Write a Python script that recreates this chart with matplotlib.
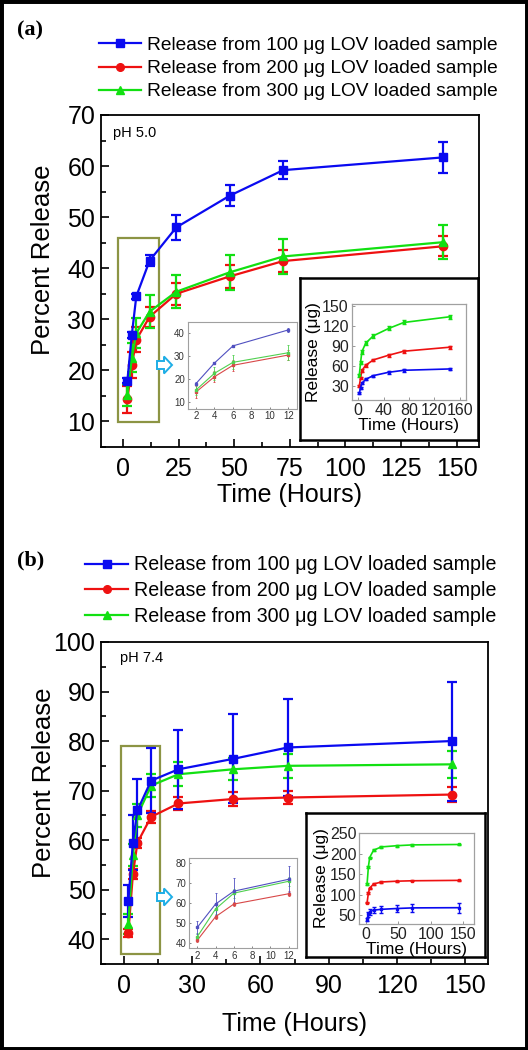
import numpy as np
import matplotlib
matplotlib.use("Agg")
import matplotlib.pyplot as plt
from matplotlib.patches import Rectangle, FancyArrow
from matplotlib.lines import Line2D
from matplotlib.ticker import MultipleLocator

plt.rcParams['font.family'] = ['Liberation Sans', 'DejaVu Sans']

# sampling times (hours)
hours = [2, 4, 6, 12, 24, 48, 72, 144]

# pH 5.0 - percent release (100, 200, 300 ug loaded)
ph5_100 = [18.0, 27.0, 34.5, 41.5, 48.0, 54.2, 59.2, 61.7]
ph5_100_err = [0.5, 0.6, 0.5, 1.0, 2.4, 2.1, 1.7, 3.1]
ph5_200 = [14.3, 21.0, 26.0, 30.5, 35.0, 38.4, 41.4, 44.3]
ph5_200_err = [2.7, 2.5, 2.5, 2.0, 2.2, 2.3, 2.2, 2.0]
ph5_300 = [15.2, 22.5, 27.3, 31.5, 35.4, 39.2, 42.3, 45.1]
ph5_300_err = [2.2, 2.8, 3.0, 3.3, 3.2, 3.4, 3.4, 3.3]

# pH 5.0 - release in ug (inset)
ph5_100_ug = [19, 27.5, 34, 40, 45.5, 50.5, 53.5, 55.5]
ph5_100_ug_err = [1.5, 1.5, 1.5, 1.5, 1.5, 2, 2, 2]
ph5_200_ug = [30, 42, 53, 61, 69, 76, 82, 88]
ph5_200_ug_err = [2, 2, 2, 2, 2, 2, 2, 2]
ph5_300_ug = [46, 65, 81, 94, 105, 116, 125, 133.5]
ph5_300_ug_err = [2, 2, 3, 3, 3, 3, 3, 3]

# pH 7.4 - percent release
ph7_100 = [47.7, 59.5, 66.0, 72.0, 74.3, 76.4, 78.7, 80.0]
ph7_100_err = [3.2, 5.6, 6.4, 6.6, 8.0, 9.0, 9.8, 12.0]
ph7_200 = [41.2, 53.1, 59.5, 64.7, 67.4, 68.3, 68.6, 69.2]
ph7_200_err = [0.8, 1.0, 1.0, 1.2, 1.3, 1.4, 1.4, 1.5]
ph7_300 = [43.0, 57.0, 65.0, 71.0, 73.3, 74.3, 75.0, 75.3]
ph7_300_err = [2.0, 2.3, 2.3, 2.3, 2.4, 2.2, 2.4, 2.7]

# pH 7.4 - release in ug (inset)
ph7_100_ug = [39, 52, 58, 62, 64, 66, 67.5, 68]
ph7_100_ug_err = [4, 6, 7, 7, 8, 9, 10, 12]
ph7_200_ug = [80, 104, 116, 126, 131, 133, 134, 135]
ph7_200_ug_err = [1.5, 1.5, 1.5, 1.5, 1.5, 1.5, 1.5, 1.5]
ph7_300_ug = [126, 168, 191, 209, 217, 220, 222, 223]
ph7_300_ug_err = [2, 2, 2, 2, 2, 2, 2, 2]

labels = ["Release from 100 \u03bcg LOV loaded sample",
          "Release from 200 \u03bcg LOV loaded sample",
          "Release from 300 \u03bcg LOV loaded sample"]
colors = ['#0a0af0', '#ee1111', '#12e012']
thin_colors = ['#5050c0', '#d84848', '#50d050']
markers = ['s', 'o', '^']
order = [1, 2, 0]  # draw red, green, then blue on top

fig = plt.figure(figsize=(5.28, 10.5), dpi=100)


def main_panel(rect, vals, errs, ylim, ystep, xstep, ph, ph_pos, ylab_x, xlab_y):
    ax = fig.add_axes(rect, zorder=0)
    for i in order:
        ax.errorbar(hours, vals[i], yerr=errs[i], color=colors[i], marker=markers[i],
                    ms=6, lw=1.6, elinewidth=1.6, capsize=3.5, capthick=1.6)
    ax.set_xlim(-10, 160)
    ax.set_ylim(*ylim)
    ax.xaxis.set_major_locator(MultipleLocator(xstep))
    ax.xaxis.set_minor_locator(MultipleLocator(xstep / 2))
    ax.yaxis.set_major_locator(MultipleLocator(ystep))
    ax.yaxis.set_minor_locator(MultipleLocator(ystep / 2))
    ax.tick_params(which='both', direction='in', top=False, right=False, width=1.2)
    ax.tick_params(which='major', length=6, labelsize=18)
    ax.tick_params(axis='x', which='major', pad=7)
    ax.tick_params(axis='y', which='major', pad=4)
    ax.tick_params(which='minor', length=3.5)
    for s in ax.spines.values():
        s.set_linewidth(1.3)
    ax.set_ylabel("Percent Release", fontsize=18.5)
    ax.set_xlabel("Time (Hours)", fontsize=18)
    ax.yaxis.set_label_coords(ylab_x, 0.563)
    ax.xaxis.set_label_coords(0.5, xlab_y)
    ax.text(ph_pos[0], ph_pos[1], ph, transform=ax.transAxes, fontsize=10.5,
            va='center', ha='left')
    return ax


def zoom_inset(rect, vals, errs, ylim, ystep):
    ax = fig.add_axes(rect, zorder=3)
    for i in order:
        ax.errorbar(hours[:4], vals[i][:4], yerr=errs[i][:4], color=thin_colors[i],
                    marker='s', ms=1.5, lw=0.8, elinewidth=0.6, capsize=1, capthick=0.6)
    ax.set_xlim(1.1, 12.9)
    ax.set_ylim(*ylim)
    ax.set_xticks([2, 4, 6, 8, 10, 12])
    ax.yaxis.set_major_locator(MultipleLocator(ystep))
    ax.tick_params(direction='in', length=1.5, width=0.5, labelsize=7, pad=2,
                   colors='#555555', labelcolor='#333333')
    for s in ax.spines.values():
        s.set_color('#a0a0a0')
        s.set_linewidth(0.8)
    return ax


def ug_inset(frame_rect, rect, vals, errs, ylim, yticks, xticks, xlim):
    frame = fig.add_axes(frame_rect, zorder=3)
    frame.set_xticks([])
    frame.set_yticks([])
    for s in frame.spines.values():
        s.set_linewidth(1.8)
    ax = fig.add_axes(rect, zorder=4)
    for i in order:
        ax.errorbar(hours, vals[i], yerr=errs[i], color=colors[i], marker='s', ms=2,
                    lw=1.2, elinewidth=1, capsize=1.5, capthick=1)
    ax.set_xlim(*xlim)
    ax.set_ylim(*ylim)
    ax.set_xticks(xticks)
    ax.set_yticks(yticks)
    ax.tick_params(direction='in', length=2, width=0.6, labelsize=11.5, pad=2,
                   colors='#888888', labelcolor='#222222')
    for s in ax.spines.values():
        s.set_color('#a0a0a0')
        s.set_linewidth(0.9)
    ax.set_ylabel("Release (\u03bcg)", fontsize=12.5, labelpad=1)
    ax.set_xlabel("Time (Hours)", fontsize=12.5, labelpad=0)
    return ax


def add_legend(anchor, size, spacing):
    handles = [Line2D([], [], color=colors[i], marker=markers[i], ms=5.5, lw=1.6)
               for i in range(3)]
    fig.legend(handles, labels, loc='upper right', bbox_to_anchor=anchor,
               frameon=False, fontsize=size, handlelength=2.2, handletextpad=0.3,
               labelspacing=spacing, borderpad=0, borderaxespad=0)


def arrow(x, y):
    fig.patches.append(FancyArrow(x, y, 0.15, 0, width=0.08, head_width=0.17,
                                  head_length=0.08, length_includes_head=True,
                                  transform=fig.dpi_scale_trans, facecolor='white',
                                  edgecolor='#1eaee6', lw=1.4, zorder=5))


# ---- panel (a): pH 5.0 ----
ax_a = main_panel([0.1907, 0.5743, 0.7165, 0.3162],
                  [ph5_100, ph5_200, ph5_300],
                  [ph5_100_err, ph5_200_err, ph5_300_err],
                  (5, 70), 10, 25, "pH 5.0", (0.033, 0.946), -0.121, -0.108)
ax_a.add_patch(Rectangle((-2.4, 9.8), 18.5, 36.2, fill=False, edgecolor='#8c9444',
                         lw=1.6, clip_on=False, zorder=1))
zoom_inset([0.3555, 0.6108, 0.2064, 0.0826],
           [ph5_100, ph5_200, ph5_300],
           [ph5_100_err, ph5_200_err, ph5_300_err], (7, 45), 10)
ug_inset([0.568, 0.581, 0.337, 0.154], [0.666, 0.619, 0.216, 0.0911],
         [ph5_100_ug, ph5_200_ug, ph5_300_ug],
         [ph5_100_ug_err, ph5_200_ug_err, ph5_300_ug_err],
         (9, 152), [30, 60, 90, 120, 150], [0, 40, 80, 120, 160], (-10, 169))
arrow(1.57, 10.5 - 3.65)
add_legend((0.943, 0.965), 13.8, 0.30)
fig.text(0.032, 0.971, "(a)", fontsize=16, fontweight='bold',
         family='Liberation Serif', va='center')

# ---- panel (b): pH 7.4 ----
ax_b = main_panel([0.1913, 0.0819, 0.733, 0.3067],
                  [ph7_100, ph7_200, ph7_300],
                  [ph7_100_err, ph7_200_err, ph7_300_err],
                  (35, 100), 10, 30, "pH 7.4", (0.049, 0.95), -0.116, -0.149)
ax_b.add_patch(Rectangle((-1.4, 37.0), 17.5, 42.0, fill=False, edgecolor='#8c9444',
                         lw=1.6, clip_on=False, zorder=1))
zoom_inset([0.358, 0.0971, 0.2045, 0.0857],
           [ph7_100, ph7_200, ph7_300],
           [ph7_100_err, ph7_200_err, ph7_300_err], (37.3, 82.7), 10)
ug_inset([0.5795, 0.0886, 0.339, 0.137], [0.6805, 0.12, 0.2172, 0.087],
         [ph7_100_ug, ph7_200_ug, ph7_300_ug],
         [ph7_100_ug_err, ph7_200_ug_err, ph7_300_ug_err],
         (28, 252), [50, 100, 150, 200, 250], [0, 50, 100, 150], (-10, 167))
arrow(1.57, 10.5 - 8.97)
add_legend((0.940, 0.471), 14.1, 0.35)
fig.text(0.032, 0.466, "(b)", fontsize=16, fontweight='bold',
         family='Liberation Serif', va='center')

# outer border
fig.patches.append(Rectangle((0, 0), 1, 1, transform=fig.transFigure, fill=False,
                             edgecolor='black', lw=5, zorder=10))

fig.savefig("out.png", dpi=100)
